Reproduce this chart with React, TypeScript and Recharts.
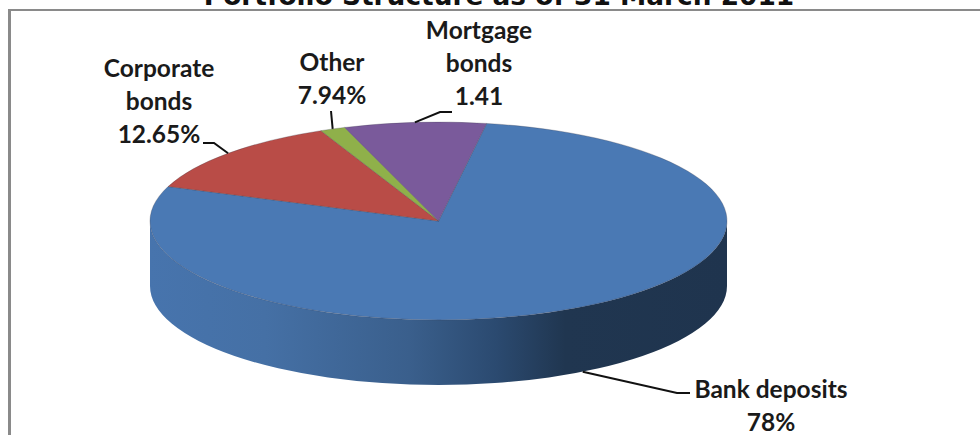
import { PieChart, Pie } from "recharts";

const categories = ["Bank deposits", "Corporate bonds", "Other", "Mortgage bonds"];
const shares = [78, 12.65, 1.41, 7.94];
// the source chart prints these two swapped, so the text stays apart from the values
const valueLabels = ["78%", "12.65%", "7.94%", "1.41"];
const labelLines = [["Bank deposits"], ["Corporate", "bonds"], ["Other"], ["Mortgage", "bonds"]];
const colors = ["#4a79b4", "#b94c47", "#8fb04a", "#7a5a9b"];

const CX = 438.5;
const CY = 221;
const SQUASH = 0.343;
const DEPTH = 65;
const FONT = "Lato, sans-serif";

const rad = (deg: number) => (deg * Math.PI) / 180;
const px = (r: number, a: number) => CX + r * Math.cos(rad(a));
const py = (r: number, a: number) => CY - r * SQUASH * Math.sin(rad(a));

// elliptical slice, Pie only gives us the angles
function Slice3D(props: any) {
  const { outerRadius: r, startAngle, endAngle, fill } = props;
  const ry = r * SQUASH;
  const large = Math.abs(endAngle - startAngle) > 180 ? 1 : 0;
  const top = `M${CX},${CY} L${px(r, startAngle)},${py(r, startAngle)} A${r},${ry} 0 ${large} 1 ${px(r, endAngle)},${py(r, endAngle)} Z`;

  // only the front half of the rim can be seen
  const a0 = Math.min(startAngle, 0);
  const a1 = Math.max(endAngle, -180);
  let wall = null;
  if (a0 > a1) {
    const d = `M${px(r, a0)},${py(r, a0)} A${r},${ry} 0 0 1 ${px(r, a1)},${py(r, a1)} L${px(r, a1)},${py(r, a1) + DEPTH} A${r},${ry} 0 0 0 ${px(r, a0)},${py(r, a0) + DEPTH} Z`;
    wall = <path d={d} fill="url(#rim)" />;
  }
  return (
    <g>
      {wall}
      <path d={top} fill={fill} stroke="#3a3a4a" strokeOpacity={0.35} strokeWidth={0.8} />
    </g>
  );
}

// where each label block and its leader knee sit
const labelPlace = [
  { tx: 771, ty: 398, kx: 677, ky: 393, ex: 690 },
  { tx: 159, ty: 77, kx: 214, ky: 143, ex: 203 },
  { tx: 332, ty: 71, kx: 331, ky: 111, ex: 331 },
  { tx: 479, ty: 39, kx: 440, ky: 112, ex: 452 },
];

function SliceLabel(props: any) {
  const { midAngle, outerRadius: r, index } = props;
  const place = labelPlace[index];
  const ax = px(r, midAngle);
  const ay = py(r, midAngle) + (Math.sin(rad(midAngle)) < 0 ? DEPTH : 0);
  const rows = [...labelLines[index], valueLabels[index]];
  return (
    <g>
      <path
        d={`M${ax},${ay} L${place.kx},${place.ky} L${place.ex},${place.ky}`}
        fill="none"
        stroke="#111"
        strokeWidth={2}
      />
      {rows.map((t, i) => (
        <text
          key={t}
          x={place.tx}
          y={place.ty + i * 33}
          textAnchor="middle"
          fontFamily={FONT}
          fontWeight={700}
          fontSize={24.5}
          fill="#1a1a1a"
        >
          {t}
        </text>
      ))}
    </g>
  );
}

const rows = categories.map((name, i) => ({ name, value: shares[i], fill: colors[i] }));

export default function App() {
  return (
    <div style={{ position: "absolute", left: 0, top: 0, width: 980, height: 435, overflow: "hidden", background: "#fff" }}>
      <div
        style={{
          position: "absolute",
          left: 8,
          top: 9,
          width: 980,
          height: 440,
          borderLeft: "3px solid #8a8a8a",
          borderTop: "2px solid #8a8a8a",
        }}
      />
      <div
        style={{
          position: "absolute",
          left: 9,
          top: -20,
          width: 980,
          textAlign: "center",
          fontFamily: "DejaVu Sans, sans-serif",
          fontWeight: 700,
          fontSize: 26.4,
          color: "#111",
          whiteSpace: "nowrap",
        }}
      >
        Portfolio Structure as of 31 March 2011
      </div>
      <div style={{ position: "absolute", left: 0, top: 0 }}>
        <PieChart width={980} height={435} margin={{ top: 0, right: 0, bottom: 0, left: 0 }}>
          <defs>
            <linearGradient id="rim" gradientUnits="userSpaceOnUse" x1={150} y1={0} x2={727} y2={0}>
              <stop offset="0" stopColor="#4774ad" />
              <stop offset="0.2" stopColor="#4570a5" />
              <stop offset="0.45" stopColor="#3a5f8c" />
              <stop offset="0.6" stopColor="#2b4a70" />
              <stop offset="0.72" stopColor="#203650" />
              <stop offset="1" stopColor="#1f344e" />
            </linearGradient>
          </defs>
          <Pie
            data={rows}
            dataKey="value"
            nameKey="name"
            cx={CX}
            cy={CY}
            innerRadius={0}
            outerRadius={288.5}
            startAngle={80.4}
            endAngle={-279.6}
            stroke="none"
            shape={Slice3D}
            label={SliceLabel}
            labelLine={false}
            isAnimationActive={false}
          />
        </PieChart>
      </div>
    </div>
  );
}
